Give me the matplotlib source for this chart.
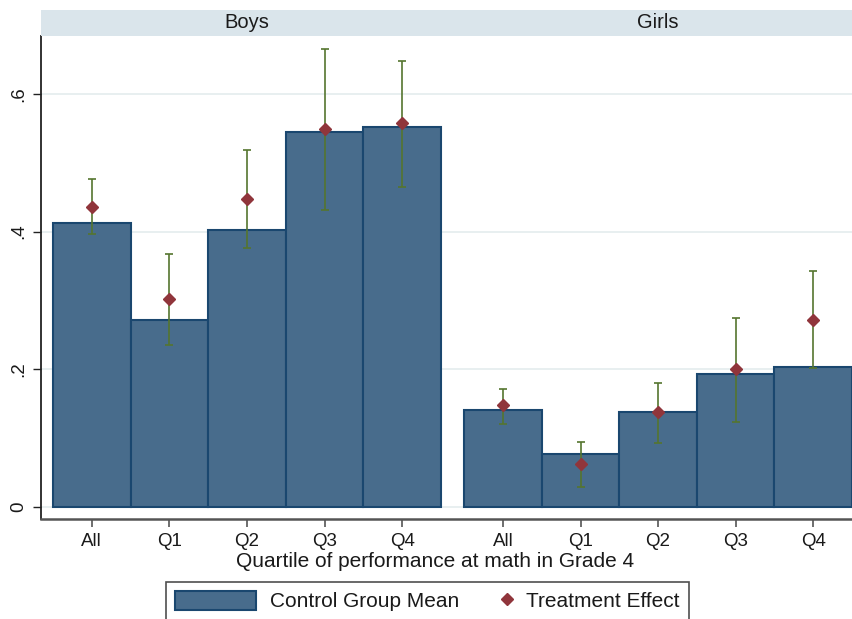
import numpy as np
import matplotlib
matplotlib.use("Agg")
import matplotlib.pyplot as plt
from matplotlib.patches import Patch
from matplotlib.lines import Line2D
from matplotlib.legend_handler import HandlerLine2D

# values
groups = ["Boys", "Girls"]
quartiles = ["All", "Q1", "Q2", "Q3", "Q4"]
control_boys = [0.412, 0.271, 0.402, 0.545, 0.552]
control_girls = [0.141, 0.077, 0.138, 0.193, 0.203]
effect_boys = [0.436, 0.302, 0.448, 0.549, 0.557]
effect_girls = [0.148, 0.062, 0.138, 0.201, 0.272]
ci_low_boys = [0.396, 0.236, 0.376, 0.431, 0.465]
ci_high_boys = [0.477, 0.368, 0.519, 0.665, 0.647]
ci_low_girls = [0.120, 0.029, 0.093, 0.124, 0.202]
ci_high_girls = [0.172, 0.094, 0.180, 0.275, 0.343]
yticks = [0, 0.2, 0.4, 0.6]
ytick_labels = ["0", ".2", ".4", ".6"]

plt.rcParams['font.family'] = ['Liberation Sans', 'DejaVu Sans']

navy = '#486c8c'
navy_edge = '#1a476f'
maroon = '#90353b'
green = '#55752f'

W, H = 852, 619
fig = plt.figure(figsize=(W / 100, H / 100), dpi=100)

# pixel layout
left, right, top, bottom = 41, 852, 36, 519
ax = fig.add_axes([left / W, 1 - bottom / H, (right - left) / W, (bottom - top) / H])
strip = fig.add_axes([left / W, 1 - top / H, (right - left) / W, 26 / H])

gap = 0.3
n = len(quartiles)
x_boys = np.arange(n)
x_girls = np.arange(n) + n + gap
xs = np.concatenate([x_boys, x_girls])
control = control_boys + control_girls
effect = np.array(effect_boys + effect_girls)
lo = np.array(ci_low_boys + ci_low_girls)
hi = np.array(ci_high_boys + ci_high_girls)

ax.bar(xs, control, width=1.0, color=navy, edgecolor=navy_edge, linewidth=1.5, zorder=2)
ax.errorbar(xs, effect, yerr=[effect - lo, hi - effect], fmt='none', ecolor=green,
            elinewidth=1.2, capsize=3, capthick=1.2, zorder=3)
ax.plot(xs, effect, linestyle='none', marker='D', markersize=6.5, color=maroon, zorder=4)

ax.set_xlim(-0.655, xs[-1] + 0.5)
ax.set_ylim(-0.0174, 0.684)
ax.set_xticks(xs)
ax.set_xticklabels(quartiles * 2, fontsize=13.5, color='#1a1a1a')
ax.set_yticks(yticks)
ax.set_yticklabels(ytick_labels, fontsize=13.5, rotation=90, va='center', color='#1a1a1a')
ax.tick_params(axis='y', length=6, width=1, pad=4, color='#222222')
ax.tick_params(axis='x', length=6, width=1.2, pad=4, color='#555555')
ax.grid(axis='y', color='#e4ecee', linewidth=1.2, zorder=0)
ax.set_axisbelow(True)
for s in ['top', 'right']:
    ax.spines[s].set_visible(False)
ax.spines['left'].set_color('#222222')
ax.spines['left'].set_linewidth(1.3)
ax.spines['bottom'].set_color('#555555')
ax.spines['bottom'].set_linewidth(1.8)
ax.set_xlabel("Quartile of performance at math in Grade 4", fontsize=15, labelpad=0,
              color='#1a1a1a')
# the title sits a bit left of the plot centre in the original
ax.xaxis.set_label_coords((435 - left) / (right - left), -0.068)

# header strip with group names
strip.set_facecolor('#dae5eb')
strip.set_xlim(ax.get_xlim())
strip.set_ylim(0, 1)
strip.set_xticks([])
strip.set_yticks([])
for s in strip.spines.values():
    s.set_visible(False)
strip.text(x_boys.mean(), 0.5, groups[0], ha='center', va='center', fontsize=14.5, color='#1a1a1a')
strip.text(x_girls.mean(), 0.5, groups[1], ha='center', va='center', fontsize=14.5, color='#1a1a1a')


class HandlerEndMarker(HandlerLine2D):
    # put the single marker near the right end of the handle box
    def get_xdata(self, legend, xdescent, ydescent, width, height, fontsize):
        x = -xdescent + width - 0.24 * fontsize
        return np.array([x, x]), np.array([x])


handles = [
    Patch(facecolor=navy, edgecolor=navy_edge, linewidth=1.5, label="Control Group Mean"),
    Line2D([], [], linestyle='none', marker='D', markersize=6.5, color=maroon, label="Treatment Effect"),
]
leg = fig.legend(handles=handles, loc='upper left', bbox_to_anchor=(166 / W, 1 - 582 / H),
                 ncol=2, fontsize=15, frameon=True, fancybox=False, edgecolor='#222222',
                 borderpad=0.43, borderaxespad=0, handlelength=3.89, handleheight=1.0,
                 handletextpad=0.67, columnspacing=-1.34,
                 handler_map={Line2D: HandlerEndMarker(numpoints=1)})
leg.get_frame().set_linewidth(1.2)
for t in leg.get_texts():
    t.set_color('#1a1a1a')

fig.savefig("out.png", dpi=100)
